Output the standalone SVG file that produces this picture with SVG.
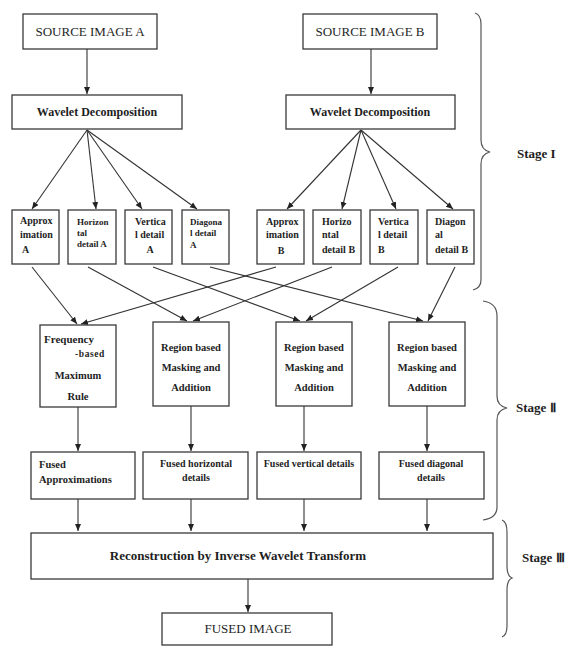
<svg xmlns="http://www.w3.org/2000/svg" width="570" height="648" viewBox="0 0 570 648">
<style>
.box{fill:#fff;stroke:#3a3a3a;stroke-width:1.3}
.t{font-family:"Liberation Serif","Times New Roman",serif;fill:#1e1e1e}
.b{font-weight:bold}
.c{text-anchor:middle}
.ln{stroke:#333;stroke-width:1.1;fill:none}
.br{stroke:#555;stroke-width:1.2;fill:none}
</style>
<defs>
<marker id="ah" markerWidth="8" markerHeight="8" refX="7" refY="4" orient="auto" markerUnits="userSpaceOnUse">
<path d="M0,1 L7,4 L0,7 Z" fill="#222"/>
</marker>
</defs>
<rect width="570" height="648" fill="#fff"/>

<g id="connectors" class="ln">
<line x1="87" y1="49" x2="87" y2="94" marker-end="url(#ah)"/>
<line x1="371" y1="49" x2="371" y2="94" marker-end="url(#ah)"/>
<line x1="87" y1="130" x2="32" y2="209" marker-end="url(#ah)"/>
<line x1="87" y1="130" x2="96" y2="209" marker-end="url(#ah)"/>
<line x1="87" y1="130" x2="142" y2="209" marker-end="url(#ah)"/>
<line x1="87" y1="130" x2="197" y2="209" marker-end="url(#ah)"/>
<line x1="361" y1="130" x2="287" y2="209" marker-end="url(#ah)"/>
<line x1="361" y1="130" x2="342" y2="209" marker-end="url(#ah)"/>
<line x1="361" y1="130" x2="396" y2="209" marker-end="url(#ah)"/>
<line x1="361" y1="130" x2="453" y2="209" marker-end="url(#ah)"/>
<line x1="32" y1="267" x2="77" y2="324" marker-end="url(#ah)"/>
<line x1="276" y1="267" x2="81" y2="324" marker-end="url(#ah)"/>
<line x1="88" y1="267" x2="187" y2="321" marker-end="url(#ah)"/>
<line x1="332" y1="267" x2="193" y2="321" marker-end="url(#ah)"/>
<line x1="153" y1="267" x2="300" y2="321" marker-end="url(#ah)"/>
<line x1="398" y1="267" x2="306" y2="321" marker-end="url(#ah)"/>
<line x1="210" y1="267" x2="423" y2="321" marker-end="url(#ah)"/>
<line x1="455" y1="267" x2="428" y2="321" marker-end="url(#ah)"/>
<line x1="78" y1="407" x2="78" y2="451" marker-end="url(#ah)"/>
<line x1="191" y1="406" x2="191" y2="451" marker-end="url(#ah)"/>
<line x1="304" y1="406" x2="304" y2="451" marker-end="url(#ah)"/>
<line x1="427" y1="406" x2="427" y2="451" marker-end="url(#ah)"/>
<line x1="78" y1="499" x2="78" y2="531" marker-end="url(#ah)"/>
<line x1="191" y1="499" x2="191" y2="531" marker-end="url(#ah)"/>
<line x1="304" y1="499" x2="304" y2="531" marker-end="url(#ah)"/>
<line x1="427" y1="499" x2="427" y2="531" marker-end="url(#ah)"/>
<line x1="248" y1="579" x2="248" y2="612" marker-end="url(#ah)"/>
</g>

<g id="srcA"><rect class="box" x="23" y="14" width="134" height="35"/><text class="t c" x="90" y="36" font-size="13">SOURCE IMAGE A</text></g>
<g id="srcB"><rect class="box" x="303" y="14" width="134" height="35"/><text class="t c" x="370" y="36" font-size="13">SOURCE IMAGE B</text></g>
<g id="wdA"><rect class="box" x="12" y="95" width="170" height="34"/><text class="t b c" x="97" y="116" font-size="12">Wavelet Decomposition</text></g>
<g id="wdB"><rect class="box" x="286" y="95" width="169" height="34"/><text class="t b c" x="370" y="116" font-size="12">Wavelet Decomposition</text></g>

<g id="apA"><rect class="box" x="12" y="210" width="47" height="54"/><text class="t b" font-size="10"><tspan x="20" y="224">Approx</tspan><tspan x="20" y="238">imation</tspan><tspan x="22" y="253">A</tspan></text></g>
<g id="hzA"><rect class="box" x="68" y="210" width="48" height="54"/><text class="t b" font-size="9"><tspan x="77" y="225">Horizon</tspan><tspan x="77" y="236">tal</tspan><tspan x="77" y="247">detail A</tspan></text></g>
<g id="vtA"><rect class="box" x="125" y="210" width="47" height="54"/><text class="t b" font-size="10"><tspan x="135" y="225">Vertica</tspan><tspan x="135" y="238">l detail</tspan><tspan x="150" y="253" text-anchor="middle">A</tspan></text></g>
<g id="dgA"><rect class="box" x="182" y="210" width="47" height="54"/><text class="t b" font-size="9"><tspan x="190" y="225">Diagona</tspan><tspan x="190" y="236">l detail</tspan><tspan x="190" y="248">A</tspan></text></g>

<g id="apB"><rect class="box" x="257" y="210" width="47" height="54"/><text class="t b" font-size="10"><tspan x="266" y="225">Approx</tspan><tspan x="266" y="238">imation</tspan><tspan x="281" y="254" text-anchor="middle">B</tspan></text></g>
<g id="hzB"><rect class="box" x="313" y="210" width="48" height="54"/><text class="t b" font-size="10"><tspan x="322" y="225">Horizo</tspan><tspan x="322" y="238">ntal</tspan><tspan x="322" y="253">detail B</tspan></text></g>
<g id="vtB"><rect class="box" x="370" y="210" width="48" height="54"/><text class="t b" font-size="10"><tspan x="378" y="225">Vertica</tspan><tspan x="378" y="238">l detail</tspan><tspan x="378" y="253">B</tspan></text></g>
<g id="dgB"><rect class="box" x="427" y="210" width="47" height="54"/><text class="t b" font-size="10"><tspan x="435" y="225">Diagon</tspan><tspan x="435" y="238">al</tspan><tspan x="435" y="253">detail B</tspan></text></g>

<g id="freq"><rect class="box" x="40" y="325" width="76" height="82"/><text class="t b" font-size="11"><tspan x="44" y="343">Frequency</tspan></text><text class="t b" font-size="9.5" letter-spacing="0.6"><tspan x="75" y="357">-based</tspan></text><text class="t b c" font-size="10.5"><tspan x="78" y="379">Maximum</tspan><tspan x="78" y="400">Rule</tspan></text></g>
<g id="reg1"><rect class="box" x="153" y="322" width="76" height="84"/><text class="t b c" font-size="10.5"><tspan x="191" y="351">Region based</tspan><tspan x="191" y="371">Masking and</tspan><tspan x="191" y="391">Addition</tspan></text></g>
<g id="reg2"><rect class="box" x="276" y="322" width="76" height="84"/><text class="t b c" font-size="10.5"><tspan x="314" y="351">Region based</tspan><tspan x="314" y="371">Masking and</tspan><tspan x="314" y="391">Addition</tspan></text></g>
<g id="reg3"><rect class="box" x="389" y="322" width="76" height="84"/><text class="t b c" font-size="10.5"><tspan x="427" y="351">Region based</tspan><tspan x="427" y="371">Masking and</tspan><tspan x="427" y="391">Addition</tspan></text></g>

<g id="fusA"><rect class="box" x="31" y="452" width="104" height="47"/><text class="t b" font-size="10.5"><tspan x="39" y="468">Fused</tspan><tspan x="39" y="483">Approximations</tspan></text></g>
<g id="fusH"><rect class="box" x="143" y="452" width="105" height="47"/><text class="t b c" font-size="10"><tspan x="196" y="467">Fused horizontal</tspan><tspan x="196" y="481">details</tspan></text></g>
<g id="fusV"><rect class="box" x="257" y="452" width="104" height="47"/><text class="t b c" font-size="10"><tspan x="309" y="467">Fused vertical details</tspan></text></g>
<g id="fusD"><rect class="box" x="379" y="452" width="105" height="47"/><text class="t b c" font-size="10"><tspan x="431" y="467">Fused diagonal</tspan><tspan x="431" y="481">details</tspan></text></g>

<g id="recon"><rect class="box" x="31" y="533" width="462" height="46"/><text class="t b c" x="238" y="560" font-size="13">Reconstruction by Inverse Wavelet Transform</text></g>
<g id="fused"><rect class="box" x="162" y="613" width="170" height="32"/><text class="t c" x="248" y="633" font-size="13">FUSED IMAGE</text></g>

<g id="stage1"><path class="br" d="M475,13 Q481,15 481,24 L481,140 Q481,150 490,152 Q481,154 481,164 L481,280 Q481,288 473,290"/><text class="t b" x="517" y="158" font-size="13">Stage I</text></g>
<g id="stage2"><path class="br" d="M483,301 Q497,303 497,316 L497,396 Q497,406 507,408 Q497,410 497,420 L497,507 Q497,518 483,520"/><text class="t b" x="516" y="412" font-size="13">Stage Ⅱ</text></g>
<g id="stage3"><path class="br" d="M502,520 Q507,522 507,532 L507,566 Q507,576 512,578 Q507,580 507,590 L507,626 Q507,635 502,637"/><text class="t b" x="522" y="562" font-size="13">Stage Ⅲ</text></g>
</svg>
